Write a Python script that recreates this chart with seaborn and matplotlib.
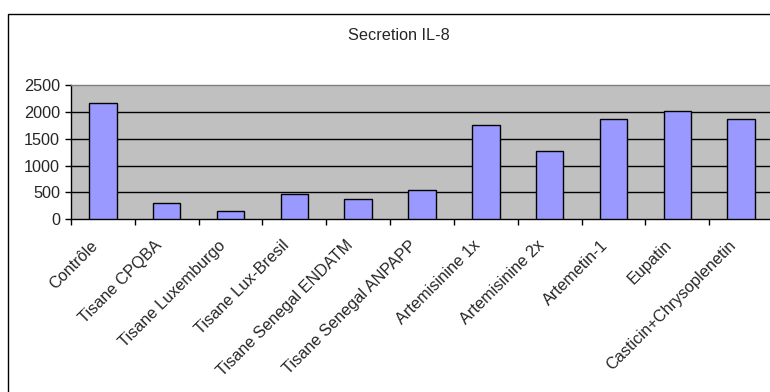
import matplotlib
matplotlib.use("Agg")
import matplotlib.pyplot as plt
from matplotlib.patches import Rectangle
from matplotlib.transforms import ScaledTranslation
import seaborn as sns
import pandas as pd

categories = [
    "Contrôle", "Tisane CPQBA", "Tisane Luxemburgo", "Tisane Lux-Bresil",
    "Tisane Senegal ENDATM", "Tisane Senegal ANPAPP", "Artemisinine 1x",
    "Artemisinine 2x", "Artemetin-1", "Eupatin", "Casticin+Chrysoplenetin",
]
il8_values = [2160, 300, 160, 470, 380, 545, 1750, 1280, 1870, 2015, 1870]
y_ticks = [0, 500, 1000, 1500, 2000, 2500]
title = "Secretion IL-8"

df = pd.DataFrame({"cat": categories, "val": il8_values})

sns.set_theme(style="white")
plt.rcParams["font.family"] = ["Liberation Sans", "DejaVu Sans"]

W, H = 770, 392
fig = plt.figure(figsize=(W / 100, H / 100), dpi=100)

# outer chart frame (runs off the right and bottom edges)
fig.patches.append(Rectangle((8 / W, -0.05), 1.2, 1 - 14 / H + 0.05,
                             transform=fig.transFigure, fill=False,
                             edgecolor="#000000", linewidth=1.0))

left, right, top, bottom = 71, 773, 85, 219.3
ax = fig.add_axes([left / W, 1 - bottom / H, (right - left) / W, (bottom - top) / H])
ax.set_facecolor("#C0C0C0")

sns.barplot(data=df, x="cat", y="val", ax=ax, color="#9999FF", width=0.43,
            edgecolor="#000000", linewidth=1.0, saturation=1, zorder=3)

FS = 11.7
n = len(categories)
ax.set_xlim(-0.5, n - 0.5)
ax.set_ylim(0, 2500)
ax.set_yticks(y_ticks)
ax.set_yticklabels([str(v) for v in y_ticks], fontsize=FS)
for v in y_ticks[1:-1]:
    ax.axhline(v, color="#000000", linewidth=1.0, zorder=1)

# tick marks sit on the category boundaries; names are placed separately
ax.set_xticks([i - 0.5 for i in range(n + 1)])
ax.set_xticklabels([""] * (n + 1))
ax.tick_params(axis="x", length=4, width=1, color="#000000", direction="out", bottom=True)
ax.tick_params(axis="y", length=4, width=1, color="#000000", direction="out", left=True, pad=4)

ax.set_xlabel("")
ax.set_ylabel("")
for side in ["left", "bottom"]:
    ax.spines[side].set_color("#000000")
    ax.spines[side].set_linewidth(1.0)
ax.spines["top"].set_color("#808080")
ax.spines["top"].set_linewidth(1.0)
ax.spines["right"].set_color("#808080")

# rotated category labels, anchored at their upper-right corner
label_tf = ax.get_xaxis_transform() + ScaledTranslation(-13 / 100, -18.5 / 100, fig.dpi_scale_trans)
for i, name in enumerate(categories):
    ax.text(i, 0, name, transform=label_tf, rotation=45, ha="right", va="top",
            rotation_mode="anchor", fontsize=FS)

fig.text(399 / W, 1 - 35 / H, title, ha="center", va="center", fontsize=FS)

fig.savefig("out.png", dpi=100)
